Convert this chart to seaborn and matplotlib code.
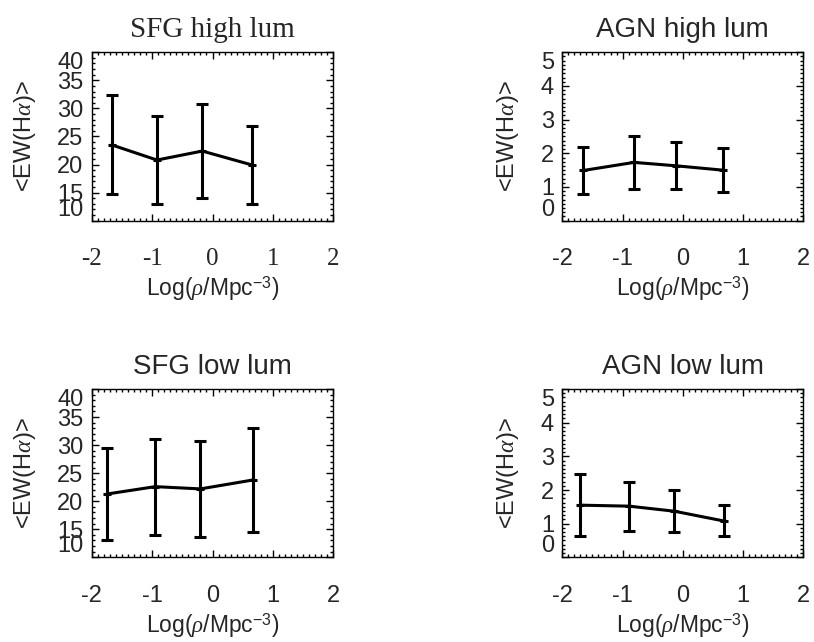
import matplotlib
matplotlib.use("Agg")
import matplotlib.pyplot as plt
import seaborn as sns
import pandas as pd
from matplotlib.ticker import MultipleLocator

# data
sfg_high_x = [-1.67, -0.92, -0.17, 0.66]
sfg_high_y = [23.5, 20.8, 22.4, 19.9]
sfg_high_err = [8.8, 7.9, 8.45, 7.0]

agn_high_x = [-1.65, -0.81, -0.12, 0.66]
agn_high_y = [1.49, 1.73, 1.63, 1.50]
agn_high_err = [0.70, 0.79, 0.70, 0.66]

sfg_low_x = [-1.74, -0.95, -0.20, 0.675]
sfg_low_y = [21.3, 22.6, 22.2, 23.8]
sfg_low_err = [8.25, 8.55, 8.6, 9.3]

agn_low_x = [-1.70, -0.89, -0.14, 0.68]
agn_low_y = [1.55, 1.52, 1.37, 1.08]
agn_low_err = [0.93, 0.73, 0.62, 0.46]

titles = ["SFG high lum", "AGN high lum", "SFG low lum", "AGN low lum"]
sfg_ticks = [10, 15, 20, 25, 30, 35, 40]
agn_ticks = [0, 1, 2, 3, 4, 5]
x_ticks = [-2, -1, 0, 1, 2]

sns.set_style("ticks")
plt.rcParams['font.family'] = ['Liberation Sans', 'DejaVu Sans']
plt.rcParams['axes.unicode_minus'] = False
plt.rcParams['mathtext.fontset'] = 'custom'
plt.rcParams['mathtext.rm'] = 'Liberation Sans'
plt.rcParams['mathtext.it'] = 'Liberation Serif:italic'

fig = plt.figure(figsize=(8.14, 6.42), dpi=100)

positions = [
    [0.1127, 0.6563, 0.2968, 0.2623],
    [0.6908, 0.6563, 0.2961, 0.2623],
    [0.1127, 0.1319, 0.2968, 0.2621],
    [0.6908, 0.1319, 0.2961, 0.2621],
]

panels = [
    (sfg_high_x, sfg_high_y, sfg_high_err, "sfg"),
    (agn_high_x, agn_high_y, agn_high_err, "agn"),
    (sfg_low_x, sfg_low_y, sfg_low_err, "sfg"),
    (agn_low_x, agn_low_y, agn_low_err, "agn"),
]

for i, (xs, ys, errs, kind) in enumerate(panels):
    ax = fig.add_axes(positions[i])
    df = pd.DataFrame({"x": xs, "y": ys})
    sns.lineplot(data=df, x="x", y="y", ax=ax, color="black", linewidth=2.2,
                 marker="+", markersize=6, markeredgewidth=2.2,
                 markeredgecolor="black", sort=False)
    ax.errorbar(xs, ys, yerr=errs, fmt="none", ecolor="black",
                elinewidth=2.2, capsize=4.3, capthick=2.2)

    ax.set_xlim(-2, 2)
    ax.set_xticks(x_ticks)
    ax.xaxis.set_minor_locator(MultipleLocator(0.1))
    if kind == "sfg":
        ax.set_ylim(10, 40)
        ax.set_yticks(sfg_ticks)
        ax.yaxis.set_minor_locator(MultipleLocator(1))
    else:
        ax.set_ylim(0, 5)
        ax.set_yticks(agn_ticks)
        ax.yaxis.set_minor_locator(MultipleLocator(0.125))

    ax.tick_params(which="both", direction="in", top=True, right=True,
                   color="black", width=1)
    ax.tick_params(which="major", length=5)
    ax.tick_params(which="minor", length=2.5)
    ax.tick_params(axis="x", which="major", labelsize=17, pad=20)
    ax.tick_params(axis="y", which="major", labelsize=17, pad=6)
    for sp in ax.spines.values():
        sp.set_linewidth(1)
        sp.set_color("black")

    ylabels = ax.get_yticklabels()
    ylabels[0].set_verticalalignment("bottom")
    ylabels[-1].set_verticalalignment("top")

    ax.set_xlabel(r"Log($\rho$/Mpc$^{\mathrm{-3}}$)", fontsize=16.5, labelpad=3)
    ax.set_ylabel(r"<EW(H$\alpha$)>", fontsize=17, labelpad=14)

    if i == 0:
        ax.set_title(titles[i], fontsize=21, family="Liberation Serif", pad=11)
        for lab in ax.get_xticklabels():
            lab.set_family("Liberation Serif")
            lab.set_fontsize(18)
    else:
        ax.set_title(titles[i], fontsize=20, pad=11)

    ax.set_facecolor("white")

fig.savefig("out.png", dpi=100, facecolor="white")
